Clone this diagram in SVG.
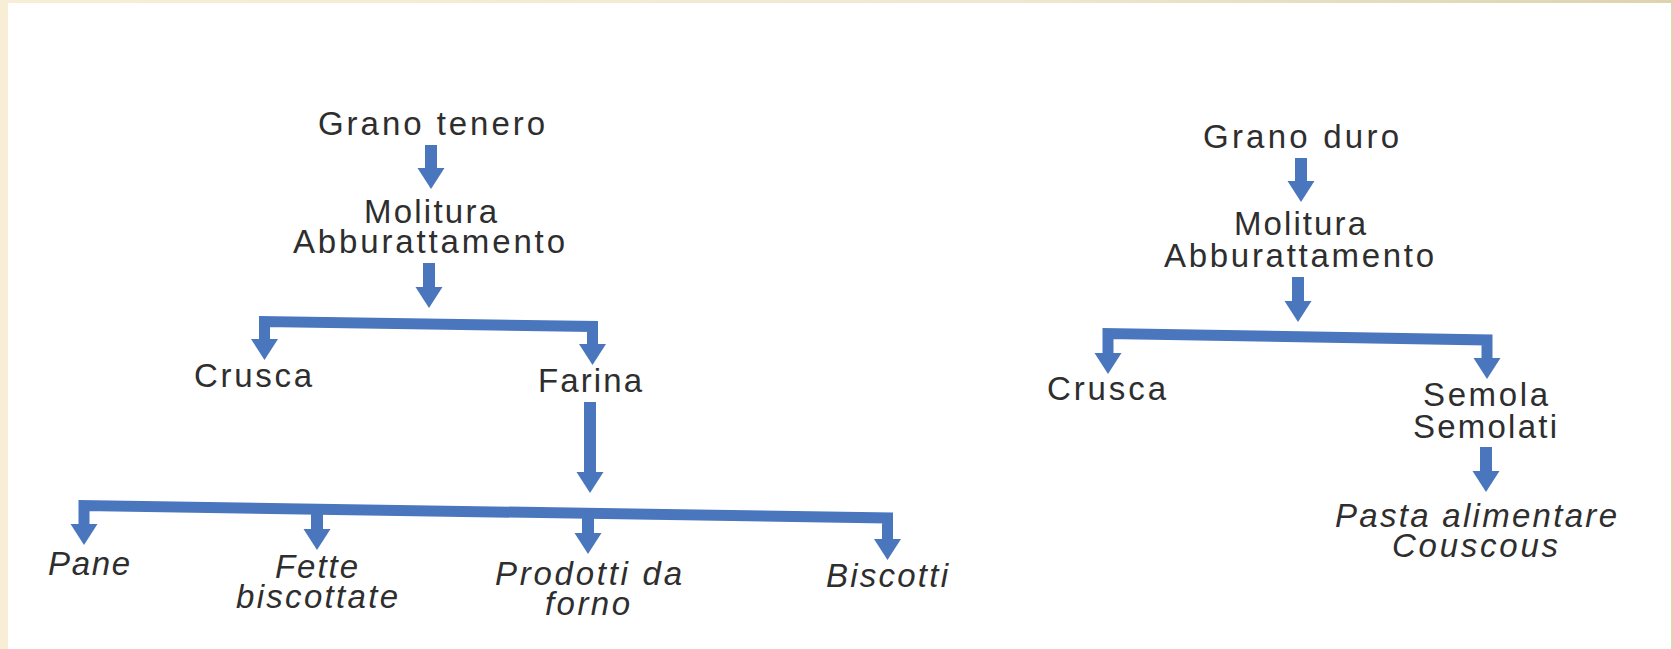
<svg xmlns="http://www.w3.org/2000/svg" xmlns:xlink="http://www.w3.org/1999/xlink" width="1673" height="649" viewBox="0 0 1673 649">
<style>
text{font-family:"Liberation Sans",Arial,Helvetica,sans-serif;font-size:33px;fill:#2e2e2e;}
text.it{font-style:italic;}
.ln{fill:none;stroke:#4a76bd;stroke-width:12;stroke-linejoin:miter;stroke-linecap:butt;}
.br{fill:none;stroke:#4a76bd;stroke-width:11;stroke-linejoin:miter;stroke-linecap:butt;}
.hd{fill:#4a76bd;}
</style>
<defs>
<linearGradient id="topband" x1="0" y1="0" x2="1" y2="0">
<stop offset="0" stop-color="#f8eed5"/>
<stop offset="0.6" stop-color="#efe8d0"/>
<stop offset="1" stop-color="#ddd3ae"/>
</linearGradient>
<polygon id="head" class="hd" points="-13.5,0 13.5,0 0,21"/>
</defs>
<rect x="0" y="0" width="1673" height="649" fill="#ffffff"/>
<rect x="0" y="0" width="8" height="649" fill="#f8eed5"/>
<rect x="0" y="0" width="1673" height="3" fill="url(#topband)"/>
<rect x="1671" y="0" width="2" height="649" fill="#e0d6b3"/>

<g id="connectors">
<!-- left tree -->
<path class="ln" d="M431,145 V169"/><use xlink:href="#head" x="431" y="168"/>
<path class="ln" d="M429,263 V288"/><use xlink:href="#head" x="429" y="287"/>
<path class="br" d="M264.5,340 V321.5 L592.5,326.5 V345"/>
<use xlink:href="#head" x="264.5" y="339"/>
<use xlink:href="#head" x="592.5" y="344"/>
<path class="ln" d="M590,402 V473"/><use xlink:href="#head" x="590" y="472"/>
<path class="br" d="M84,525 V505.5 L887.5,518 V540"/>
<use xlink:href="#head" x="84" y="524"/>
<path class="ln" d="M317,508 V530"/><use xlink:href="#head" x="317" y="529"/>
<path class="ln" d="M588,512 V534"/><use xlink:href="#head" x="588" y="533"/>
<use xlink:href="#head" x="887.5" y="539"/>
<!-- right tree -->
<path class="ln" d="M1301,158 V182"/><use xlink:href="#head" x="1301" y="181"/>
<path class="ln" d="M1298,277 V302"/><use xlink:href="#head" x="1298" y="301"/>
<path class="br" d="M1108,354 V333.5 L1487,340 V359"/>
<use xlink:href="#head" x="1108" y="353"/>
<use xlink:href="#head" x="1487" y="358"/>
<path class="ln" d="M1486,447 V472"/><use xlink:href="#head" x="1486" y="471"/>
</g>

<g id="grano-tenero"><text x="318" y="135" textLength="227" lengthAdjust="spacing">Grano tenero</text></g>
<g id="molitura-1"><text><tspan x="364" y="223" textLength="133" lengthAdjust="spacing">Molitura</tspan><tspan x="293" y="253" textLength="272" lengthAdjust="spacing">Abburattamento</tspan></text></g>
<g id="crusca-1"><text x="194" y="387" textLength="118" lengthAdjust="spacing">Crusca</text></g>
<g id="farina"><text x="538" y="392" textLength="104" lengthAdjust="spacing">Farina</text></g>
<g id="pane"><text class="it" x="48" y="575" textLength="82" lengthAdjust="spacing">Pane</text></g>
<g id="fette"><text class="it"><tspan x="275" y="578" textLength="83" lengthAdjust="spacing">Fette</tspan><tspan x="236" y="608" textLength="162" lengthAdjust="spacing">biscottate</tspan></text></g>
<g id="prodotti"><text class="it"><tspan x="495" y="585" textLength="187" lengthAdjust="spacing">Prodotti da</tspan><tspan x="545" y="615" textLength="85" lengthAdjust="spacing">forno</tspan></text></g>
<g id="biscotti"><text class="it" x="826" y="587" textLength="122" lengthAdjust="spacing">Biscotti</text></g>

<g id="grano-duro"><text x="1203" y="148" textLength="196" lengthAdjust="spacing">Grano duro</text></g>
<g id="molitura-2"><text><tspan x="1234" y="235" textLength="132" lengthAdjust="spacing">Molitura</tspan><tspan x="1164" y="267" textLength="270" lengthAdjust="spacing">Abburattamento</tspan></text></g>
<g id="crusca-2"><text x="1047" y="400" textLength="119" lengthAdjust="spacing">Crusca</text></g>
<g id="semola"><text><tspan x="1423" y="406" textLength="125" lengthAdjust="spacing">Semola</tspan><tspan x="1413" y="438" textLength="144" lengthAdjust="spacing">Semolati</tspan></text></g>
<g id="pasta"><text class="it"><tspan x="1335" y="527" textLength="282" lengthAdjust="spacing">Pasta alimentare</tspan><tspan x="1392" y="557" textLength="166" lengthAdjust="spacing">Couscous</tspan></text></g>
</svg>
